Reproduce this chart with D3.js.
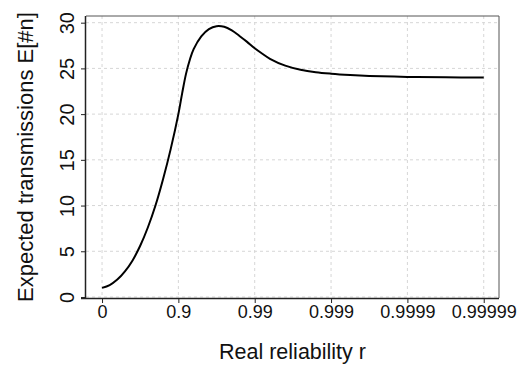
<!DOCTYPE html>
<html>
<head>
<meta charset="utf-8">
<script src="https://cdn.jsdelivr.net/npm/d3@7"></script>
<style>
  body { margin: 0; background: #fff; }
  svg { display: block; font-family: "Liberation Sans", Arial, sans-serif; }
</style>
</head>
<body>
<svg id="chart" width="522" height="365"></svg>
<script>
// x is plotted as number of nines: u = -log10(1 - r)
const nines = [0, 0.1, 0.2, 0.3, 0.4, 0.5, 0.6, 0.7, 0.8, 0.9, 1.0, 1.05, 1.1, 1.15, 1.2, 1.3, 1.4, 1.5,
  1.6, 1.7, 1.8, 1.9, 2.0, 2.1, 2.2, 2.4, 2.6, 2.8, 3.0, 3.25, 3.5, 4.0, 4.5, 5.0];
const expected = [1.0, 1.3, 1.9, 2.8, 4.0, 5.6, 7.6, 10.0, 12.9, 16.2, 20.0, 22.3, 24.4, 25.95, 27.1, 28.5, 29.3, 29.62,
  29.55, 29.15, 28.55, 27.9, 27.2, 26.6, 26.05, 25.3, 24.85, 24.58, 24.42, 24.28, 24.18, 24.07, 24.02, 24.0];
const xTickPos = [0, 1, 2, 3, 4, 5];
const xTickLabels = ['0', '0.9', '0.99', '0.999', '0.9999', '0.99999'];
const yTicks = [0, 5, 10, 15, 20, 25, 30];

const svg = d3.select('#chart');
const box = { left: 86, right: 499, top: 16, bottom: 298 };

const x = d3.scaleLinear().domain([-0.21, 5.2]).range([box.left, box.right]);
const y = d3.scaleLinear().domain([-0.11, 30.73]).range([box.bottom, box.top]);

// grid
svg.append('g').selectAll('line')
  .data(yTicks).join('line')
  .attr('x1', box.left).attr('x2', box.right)
  .attr('y1', d => y(d)).attr('y2', d => y(d))
  .attr('stroke', '#d6d6d6').attr('stroke-dasharray', '3,3');
svg.append('g').selectAll('line')
  .data(xTickPos).join('line')
  .attr('y1', box.top).attr('y2', box.bottom)
  .attr('x1', d => x(d)).attr('x2', d => x(d))
  .attr('stroke', '#d6d6d6').attr('stroke-dasharray', '3,3');

// frame top/right
svg.append('path')
  .attr('d', `M${box.left},${box.top}H${box.right}V${box.bottom}`)
  .attr('fill', 'none').attr('stroke', '#555').attr('stroke-width', 1);

// axes
const xAxis = d3.axisBottom(x).tickValues(xTickPos)
  .tickFormat((d, i) => xTickLabels[i]).tickSize(5).tickSizeOuter(0);
const gx = svg.append('g').attr('transform', `translate(0,${box.bottom})`).call(xAxis);
gx.select('.domain').attr('d', `M${box.left - 5},0.5H${box.right}`).attr('stroke', '#222').attr('stroke-width', 1.5);
gx.selectAll('.tick line').attr('stroke', '#222');
gx.selectAll('.tick text').attr('font-size', 18).attr('fill', '#111').attr('dy', null).attr('y', 20);

const yAxis = d3.axisLeft(y).tickValues(yTicks).tickSize(5).tickSizeOuter(0);
const gy = svg.append('g').attr('transform', `translate(${box.left},0)`).call(yAxis);
gy.select('.domain').attr('d', `M-0.5,${box.top}V${box.bottom + 1}`).attr('stroke', '#222').attr('stroke-width', 1.5);
gy.selectAll('.tick line').attr('stroke', '#222');
gy.selectAll('.tick text')
  .attr('font-size', 20).attr('fill', '#111')
  .attr('x', null).attr('dy', null)
  .attr('text-anchor', 'middle')
  .attr('transform', 'translate(-12,0) rotate(-90)');

// curve
const line = d3.line()
  .x((d, i) => x(nines[i]))
  .y(d => y(d))
  .curve(d3.curveCatmullRom);
svg.append('path')
  .datum(expected)
  .attr('d', line)
  .attr('fill', 'none').attr('stroke', '#000').attr('stroke-width', 2);

// titles
svg.append('text')
  .attr('x', (box.left + box.right) / 2).attr('y', 359)
  .attr('text-anchor', 'middle').attr('font-size', 21.5).attr('fill', '#111')
  .text('Real reliability r');
svg.append('text')
  .attr('transform', `translate(33,${(box.top + box.bottom) / 2}) rotate(-90)`)
  .attr('text-anchor', 'middle').attr('font-size', 22).attr('fill', '#111')
  .text('Expected transmissions E[#n]');
</script>
</body>
</html>
